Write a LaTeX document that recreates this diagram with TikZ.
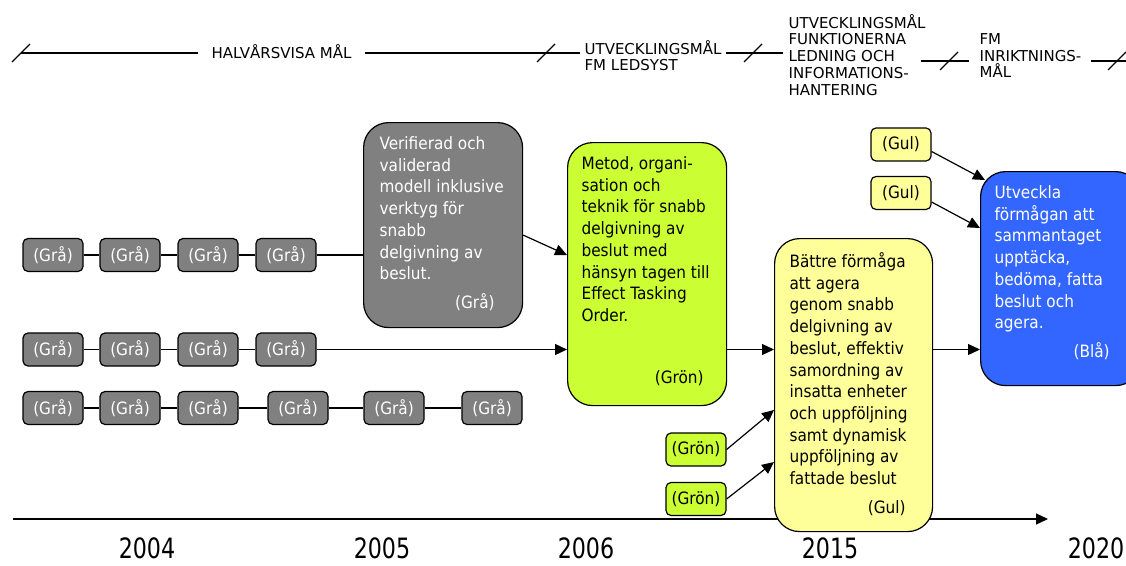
\documentclass[tikz,border=0pt]{standalone}
\usepackage{fontspec}
\setmainfont{DejaVu Sans}
\newfontfamily\smalfont{DejaVu Sans Condensed}
\newfontfamily\arfont[FakeStretch=0.88]{DejaVu Sans Condensed}
\usetikzlibrary{arrows.meta,positioning}
\definecolor{grafarg}{RGB}{128,128,128}
\definecolor{gronfarg}{RGB}{204,255,51}
\definecolor{gulfarg}{RGB}{255,255,153}
\definecolor{blafarg}{RGB}{51,102,255}
\def\boxfont{\smalfont\fontsize{17}{21.7}\selectfont}
\def\barfont{\fontsize{15}{16.9}\selectfont}
\def\yearfont{\arfont\fontsize{28}{32}\selectfont}
\tikzset{
	liten/.style={draw, rounded corners=5pt, minimum width=60pt, minimum height=33pt, inner sep=0pt, font=\boxfont},
	gra/.style={liten, fill=grafarg, text=white},
	gron/.style={liten, fill=gronfarg},
	gul/.style={liten, fill=gulfarg},
	stor/.style={draw, rounded corners=25pt, minimum width=159pt, anchor=north west, inner sep=0pt},
	brodtext/.style={align=left, inner sep=0pt, font=\boxfont},
	pil/.style={-{Triangle[length=12pt,width=11pt]}},
	rubrik/.style={align=left, inner ysep=0pt, font=\barfont, anchor=north west},
	artal/.style={anchor=base, inner sep=0pt, font=\yearfont},
}

\begin{document}
\begin{tikzpicture}[x=1pt, y=-1pt, line width=1.2pt]
	\clip (0,0) rectangle (1126,565);

	\coordinate (t1) at (21,53);
	\coordinate (t2) at (546,53);
	\coordinate (t3) at (753,53);
	\coordinate (t4) at (949,61);
	\coordinate (t5) at (1117,61);
	\node[font=\barfont, inner xsep=13pt, inner ysep=0pt] (halv) at (281.5,52) {HALVÅRSVISA MÅL};
	\node[rubrik, inner xsep=4pt] (ledsyst) at (580,39.5) {UTVECKLINGSMÅL\\FM LEDSYST};
	\node[rubrik, inner xsep=5pt] (funk) at (783,13.5) {UTVECKLINGSMÅL\\FUNKTIONERNA\\LEDNING OCH\\INFORMATIONS-\\HANTERING};
	\node[rubrik, inner xsep=10pt] (fm) at (969,32.6) {FM\\INRIKTNINGS-\\MÅL};
	\draw (t1) -- (t1 -| halv.west) (halv.east |- t2) -- (t2) -- (t2 -| ledsyst.west);
	\draw (t3 -| ledsyst.east) -- (t3) -- (t3 -| funk.west);
	\draw ([xshift=-28pt]t4) -- (t4 -| fm.west);
	\draw ([xshift=-26pt]t5) -- ([xshift=12pt]t5);
	\foreach \t in {t1,t2,t3,t4,t5}
		\draw ([shift={(-9pt,-9pt)}]\t) -- ([shift={(9pt,9pt)}]\t);

	\coordinate (tstart) at (13,519);
	\coordinate (tslut) at (1048,519);
	\draw[pil] (tstart) -- (tslut);

	\foreach \r/\y in {1/255,2/349.5}{
		\foreach \i/\x in {1/53,2/130,3/208,4/286}
			\node[gra] (g\r\i) at (\x,\y) {(Grå)};
		\draw (g\r1) -- (g\r2) (g\r2) -- (g\r3) (g\r3) -- (g\r4);
	}
	\foreach \i/\x in {1/53,2/130,3/208,4/298,5/394,6/492}
		\node[gra] (g3\i) at (\x,408) {(Grå)};
	\foreach \a/\b in {1/2,2/3,3/4,4/5,5/6}
		\draw (g3\a) -- (g3\b);

	\node[stor, fill=grafarg, minimum height=205pt] (verif) at (363,122) {};
	\node[brodtext, text=white, below right=14pt and 16pt of verif.north west] (veriftxt) {Verifierad och\\validerad\\modell inklusive\\verktyg för\\snabb\\delgivning av\\beslut.};
	\node[brodtext, text=white, above left=17pt and 28pt of verif.south east] (verifgra) {(Grå)};

	\node[stor, fill=gronfarg, minimum height=263pt] (metod) at (567,142) {};
	\node[brodtext, below right=14pt and 14pt of metod.north west] (metodtxt) {Metod, organi-\\sation och\\teknik för snabb\\delgivning av\\beslut med\\hänsyn tagen till\\Effect Tasking\\Order.};
	\node[brodtext, above left=20pt and 23pt of metod.south east] (metodgron) {(Grön)};

	\node[stor, fill=gulfarg, minimum width=158pt, minimum height=293pt] (battre) at (774,238) {};
	\node[brodtext, below right=14pt and 15pt of battre.north west] (battretxt) {Bättre förmåga\\att agera\\genom snabb\\delgivning av\\beslut, effektiv\\samordning av\\insatta enheter\\och uppföljning\\samt dynamisk\\uppföljning av\\fattade beslut};
	\node[brodtext, above left=16pt and 27pt of battre.south east] (battregul) {(Gul)};

	\node[stor, fill=blafarg, minimum width=160pt, minimum height=214pt] (utv) at (980,171) {};
	\node[brodtext, text=white, below right=14pt and 14pt of utv.north west] (utvtxt) {Utveckla\\förmågan att\\sammantaget\\upptäcka,\\bedöma, fatta\\beslut och\\agera.};
	\node[brodtext, text=white, above left=26pt and 31pt of utv.south east] (utvbla) {(Blå)};

	\node[gul] (gul1) at (901,144.5) {(Gul)};
	\node[gul] (gul2) at (901,193) {(Gul)};
	\node[gron] (gron1) at (696,449.5) {(Grön)};
	\node[gron] (gron2) at (696,499) {(Grön)};

	\draw (g14) -- (g14 -| verif.west);
	\draw[pil] ([yshift=-10pt]verif.east) -- (metod.west |- g14);
	\draw[pil] (g24) -- (g24 -| metod.west);
	\draw[pil] (g24 -| metod.east) -- (g24 -| battre.west);
	\draw[pil] (g24 -| battre.east) -- (g24 -| utv.west);
	\draw[pil] ([yshift=-7pt]gul1.east) -- ([shift={(5pt,-9pt)}]utv.north west);
	\draw[pil] ([yshift=-9pt]gul2.east) -- ([yshift=-57pt]utv.north west);
	\draw[pil] (gron1.east) -- ([yshift=-172pt]battre.north west);
	\draw[pil] (gron2.east) -- ([yshift=-224pt]battre.north west);

	\node[artal] (a2004) at (147,558) {2004};
	\node[artal] (a2005) at (382,558) {2005};
	\node[artal] (a2006) at (586,558) {2006};
	\node[artal] (a2015) at (830,558) {2015};
	\node[artal] (a2020) at (1096,558) {2020};
\end{tikzpicture}
\end{document}
